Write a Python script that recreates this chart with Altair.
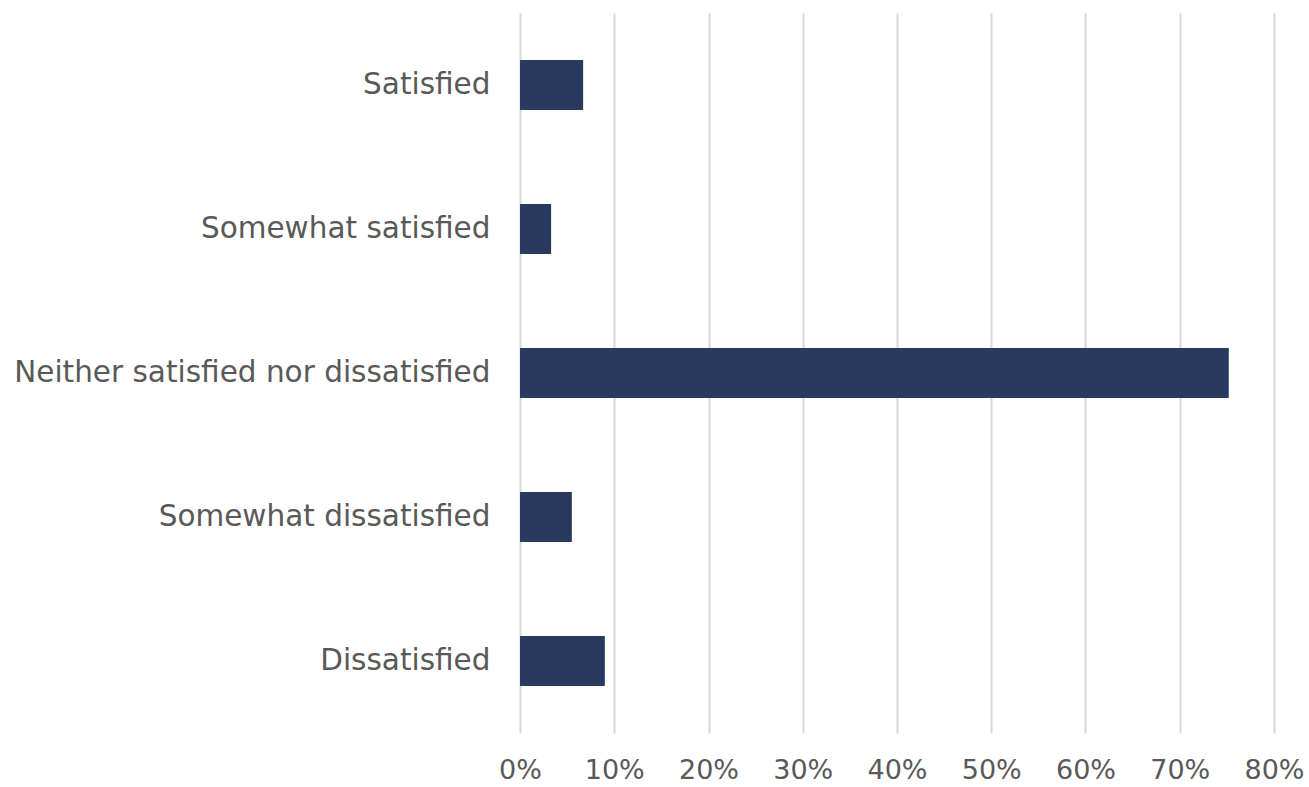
import altair as alt
import pandas as pd

categories = ["Satisfied", "Somewhat satisfied", "Neither satisfied nor dissatisfied",
              "Somewhat dissatisfied", "Dissatisfied"]
values = [0.067, 0.033, 0.752, 0.055, 0.090]

df = pd.DataFrame({"category": categories, "value": values})

FONT = "DejaVu Sans"

chart = alt.Chart(df).mark_bar(color="#283a5e").encode(
    y=alt.Y("category:N", sort=categories,
            scale=alt.Scale(paddingInner=0.653, paddingOuter=0.3265),
            axis=alt.Axis(title=None, ticks=False, domain=False, grid=False,
                          labelFont=FONT, labelFontSize=29.5, labelColor="#595959",
                          labelPadding=30, labelLimit=600)),
    x=alt.X("value:Q",
            scale=alt.Scale(domain=[0, 0.8], nice=False),
            axis=alt.Axis(title=None, format=".0%", values=[0, 0.1, 0.2, 0.3, 0.4, 0.5, 0.6, 0.7, 0.8],
                          ticks=False, domain=False, grid=True, gridColor="#d9d9d9", gridWidth=2,
                          labelFont=FONT, labelFontSize=27, labelColor="#595959",
                          labelPadding=24, labelFlush=False)),
).properties(
    width=754, height=720,
    padding={"left": 520, "top": 13, "right": 35, "bottom": 54},
    autosize=alt.AutoSizeParams(type="none"),
).configure_view(stroke=None)

chart.save("out.html", embed_options={"renderer": "svg", "actions": False})
